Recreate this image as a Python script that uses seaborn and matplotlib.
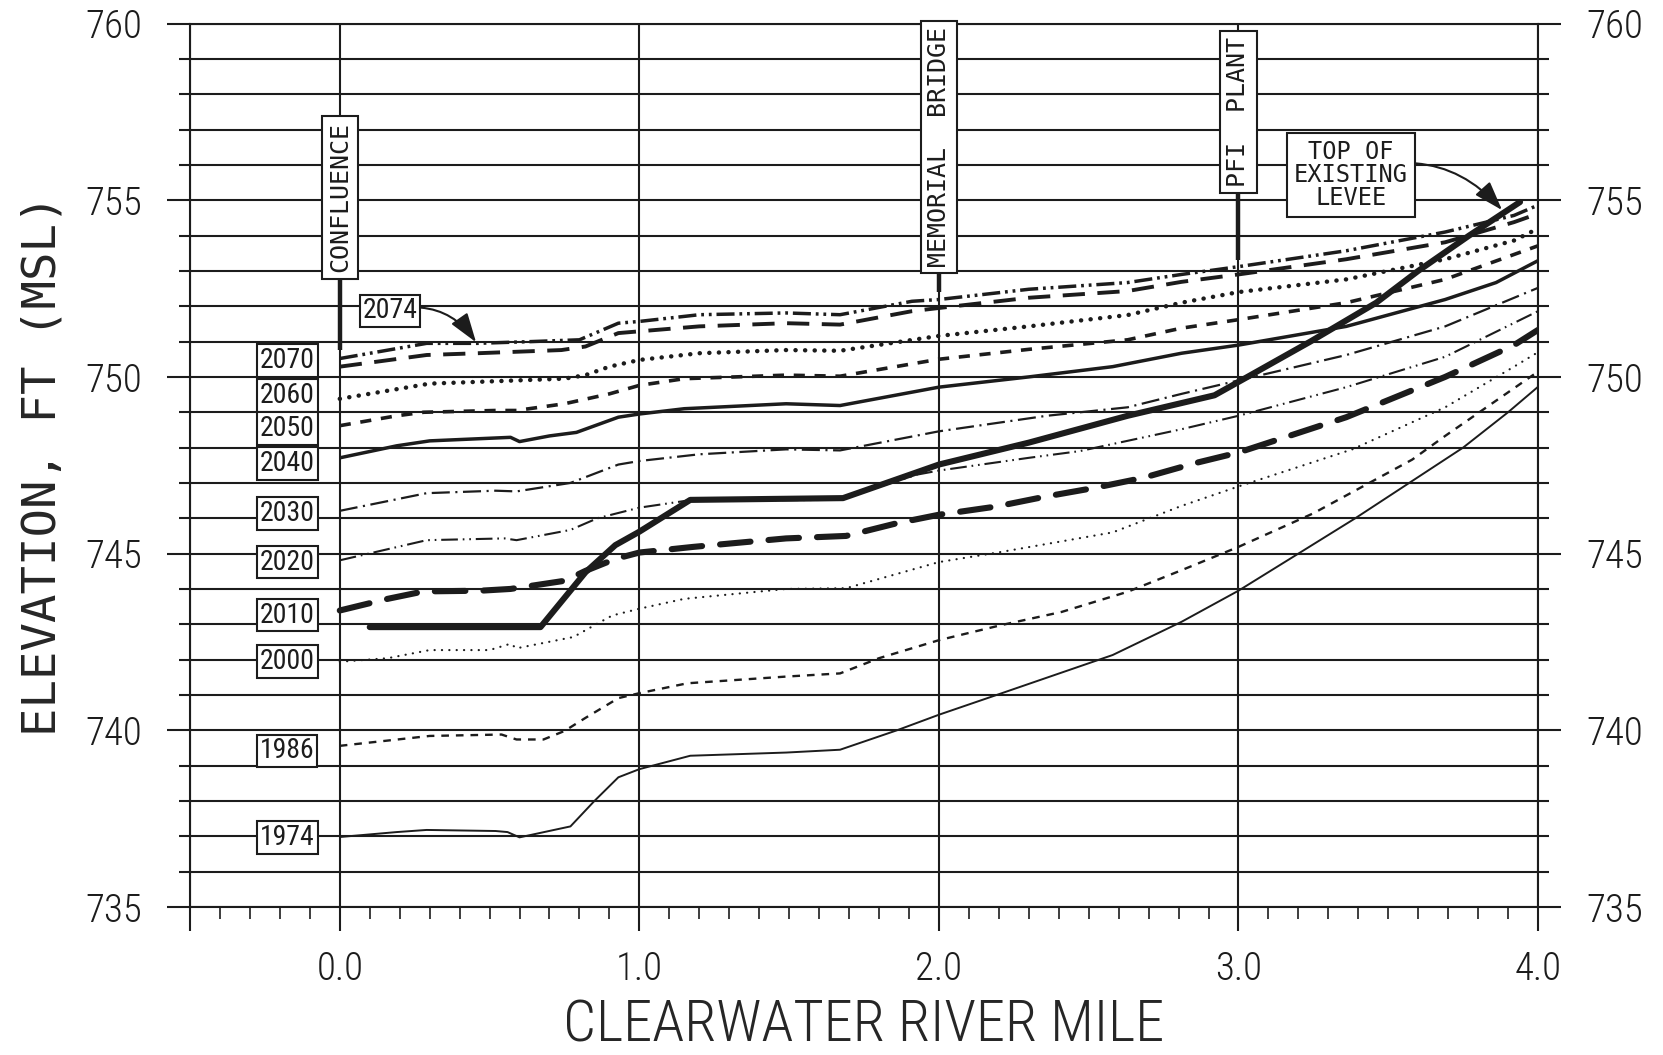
import matplotlib
matplotlib.use("Agg")
import matplotlib.pyplot as plt
from matplotlib import font_manager
from matplotlib.ticker import FixedLocator, FixedFormatter, MultipleLocator
import pandas as pd
import seaborn as sns

# ---------------- water-surface profiles (river mile, elevation ft MSL) ----------------
mile_1974 = [0.0, 0.19, 0.29, 0.52, 0.56, 0.60, 0.77, 0.85, 0.93, 1.0, 1.17, 1.49, 1.67, 1.86, 2.0,
             2.21, 2.58, 2.81, 3.0, 3.2, 3.39, 3.57, 3.75, 3.9, 4.0]
elev_1974 = [736.98, 737.12, 737.18, 737.15, 737.12, 736.97, 737.28, 738.0, 738.67, 738.9, 739.28,
             739.37, 739.45, 740.0, 740.44, 741.05, 742.13, 743.07, 743.95, 745.0, 746.0, 747.0,
             748.0, 749.0, 749.72]

mile_1986 = [0.0, 0.3, 0.54, 0.59, 0.68, 0.75, 0.82, 0.93, 1.0, 1.16, 1.49, 1.67, 1.8, 2.0, 2.21,
             2.41, 2.63, 2.81, 3.0, 3.25, 3.58, 3.69, 4.0]
elev_1986 = [739.56, 739.84, 739.88, 739.74, 739.74, 739.98, 740.35, 740.91, 741.05, 741.33, 741.52,
             741.61, 742.04, 742.55, 742.98, 743.35, 743.92, 744.53, 745.19, 746.14, 747.66, 748.33,
             750.15]

mile_2000 = [0.0, 0.16, 0.3, 0.5, 0.57, 0.59, 0.78, 0.86, 0.91, 1.0, 1.15, 1.49, 1.69, 2.0, 2.21,
             2.58, 2.81, 3.0, 3.38, 3.69, 3.92, 4.0]
elev_2000 = [741.94, 742.04, 742.27, 742.27, 742.45, 742.32, 742.64, 743.02, 743.25, 743.44, 743.72,
             744.0, 744.02, 744.76, 745.05, 745.6, 746.35, 746.9, 747.95, 749.14, 750.29, 750.7]

mile_2010 = [0.0, 0.16, 0.28, 0.47, 0.57, 0.75, 0.82, 0.92, 1.0, 1.18, 1.36, 1.49, 1.69, 1.86, 2.0,
             2.19, 2.36, 2.52, 2.68, 2.86, 3.0, 3.36, 3.69, 3.92, 4.0]
elev_2010 = [743.39, 743.72, 743.93, 743.95, 744.0, 744.23, 744.51, 744.85, 745.03, 745.19, 745.33,
             745.43, 745.5, 745.86, 746.1, 746.33, 746.62, 746.86, 747.14, 747.57, 747.86, 748.86,
             750.0, 750.9, 751.33]

mile_2020 = [0.0, 0.29, 0.55, 0.59, 0.77, 0.86, 1.0, 1.16, 1.66, 1.93, 2.0, 2.3, 2.47, 2.81, 3.0,
             3.36, 3.69, 4.0]
elev_2020 = [744.81, 745.38, 745.43, 745.38, 745.67, 746.0, 746.3, 746.5, 746.52, 747.24, 747.35,
             747.71, 747.9, 748.52, 748.9, 749.71, 750.57, 751.86]

mile_2030 = [0.0, 0.29, 0.52, 0.59, 0.77, 0.93, 1.0, 1.2, 1.49, 1.67, 2.0, 2.36, 2.63, 2.81, 3.0,
             3.36, 3.69, 4.0]
elev_2030 = [746.21, 746.71, 746.78, 746.76, 747.0, 747.52, 747.62, 747.81, 747.95, 747.92, 748.46,
             748.9, 749.14, 749.52, 749.9, 750.62, 751.43, 752.52]

mile_2040 = [0.0, 0.19, 0.3, 0.57, 0.6, 0.7, 0.79, 0.93, 1.0, 1.15, 1.49, 1.67, 2.0, 2.3, 2.58,
             2.81, 3.0, 3.36, 3.69, 3.86, 4.0]
elev_2040 = [747.71, 748.05, 748.19, 748.29, 748.17, 748.33, 748.43, 748.86, 748.95, 749.1, 749.24,
             749.19, 749.71, 750.0, 750.29, 750.67, 750.9, 751.43, 752.19, 752.67, 753.29]

mile_2050 = [0.0, 0.19, 0.28, 0.52, 0.59, 0.75, 0.9, 1.0, 1.15, 1.49, 1.67, 2.0, 2.3, 2.63, 2.81,
             3.0, 3.36, 3.69, 4.0]
elev_2050 = [748.62, 748.9, 749.0, 749.05, 749.05, 749.24, 749.52, 749.76, 749.95, 750.05, 750.02,
             750.5, 750.78, 751.05, 751.38, 751.62, 752.1, 752.76, 753.71]

mile_2060 = [0.0, 0.3, 0.75, 0.82, 0.9, 1.0, 1.2, 1.49, 1.67, 2.0, 2.3, 2.63, 2.81, 3.0, 3.36,
             3.69, 3.92, 4.0]
elev_2060 = [749.38, 749.81, 749.95, 750.05, 750.29, 750.48, 750.67, 750.76, 750.74, 751.16, 751.43,
             751.75, 752.1, 752.4, 752.76, 753.33, 753.86, 754.2]

mile_2070 = [0.0, 0.29, 0.46, 0.74, 0.82, 0.93, 1.0, 1.2, 1.49, 1.67, 1.91, 2.0, 2.3, 2.63, 2.81,
             3.0, 3.36, 3.69, 3.92, 4.0]
elev_2070 = [750.29, 750.62, 750.67, 750.76, 750.86, 751.24, 751.29, 751.43, 751.52, 751.48, 751.86,
             751.95, 752.24, 752.43, 752.69, 752.9, 753.33, 753.81, 754.38, 754.62]

mile_2074 = [0.0, 0.29, 0.46, 0.64, 0.8, 0.93, 1.0, 1.2, 1.49, 1.67, 1.91, 2.0, 2.3, 2.63, 2.81,
             3.0, 3.36, 3.69, 3.92, 4.0]
elev_2074 = [750.52, 750.95, 750.95, 751.0, 751.05, 751.52, 751.57, 751.76, 751.81, 751.76, 752.14,
             752.19, 752.48, 752.67, 752.9, 753.12, 753.57, 754.1, 754.57, 754.86]

# top of the existing levee
mile_levee = [0.1, 0.67, 0.82, 0.92, 1.0, 1.17, 1.68, 2.0, 2.3, 2.63, 2.92, 3.03, 3.24, 3.46, 3.6,
              3.77, 3.94]
elev_levee = [742.92, 742.92, 744.47, 745.24, 745.62, 746.52, 746.57, 747.52, 748.14, 748.9, 749.48,
              750.0, 751.0, 752.1, 753.0, 754.0, 754.95]

# landmarks along the river
landmark_names = ["CONFLUENCE", "MEMORIAL  BRIDGE", "PFI  PLANT"]
landmark_miles = [0.0, 2.0, 3.0]

# tick labels
x_tick_values = [-0.5, 0.0, 1.0, 2.0, 3.0, 4.0]
x_tick_labels = ["", "0.0", "1.0", "2.0", "3.0", "4.0"]

profiles = {
    "1974": (mile_1974, elev_1974),
    "1986": (mile_1986, elev_1986),
    "2000": (mile_2000, elev_2000),
    "2010": (mile_2010, elev_2010),
    "2020": (mile_2020, elev_2020),
    "2030": (mile_2030, elev_2030),
    "2040": (mile_2040, elev_2040),
    "2050": (mile_2050, elev_2050),
    "2060": (mile_2060, elev_2060),
    "2070": (mile_2070, elev_2070),
    "2074": (mile_2074, elev_2074),
}

frames = [pd.DataFrame({"mile": m, "elev": e, "profile": name}) for name, (m, e) in profiles.items()]
frames.append(pd.DataFrame({"mile": mile_levee, "elev": elev_levee, "profile": "levee"}))
df = pd.concat(frames, ignore_index=True)

# line styles: width (pt), dash pattern (pt), cap style
INK = "#1c1c1c"
styles = {
    "1974": dict(lw=1.4, ls="-", cap="butt"),
    "1986": dict(lw=1.7, ls=(0, (5.5, 5.0)), cap="butt"),
    "2000": dict(lw=1.6, ls=(0, (0.1, 5.2)), cap="round"),
    "2010": dict(lw=4.4, ls=(0, (22, 13)), cap="round"),
    "2020": dict(lw=1.5, ls=(0, (12, 3.5, 1.2, 3.5, 1.2, 3.5)), cap="butt"),
    "2030": dict(lw=1.6, ls=(0, (13, 4, 1.5, 4)), cap="butt"),
    "2040": dict(lw=2.5, ls="-", cap="butt"),
    "2050": dict(lw=2.6, ls=(0, (8, 7)), cap="butt"),
    "2060": dict(lw=3.2, ls=(0, (0.1, 6.8)), cap="round"),
    "2070": dict(lw=2.8, ls=(0, (16, 9)), cap="butt"),
    "2074": dict(lw=2.5, ls=(0, (13, 3.5, 2, 3.5, 2, 3.5)), cap="butt"),
    "levee": dict(lw=4.4, ls="-", cap="round"),
}

# label placement for the profile year boxes
label_mile = -0.175
label_elev = {"2070": 750.46, "2060": 749.47, "2050": 748.54, "2040": 747.55, "2030": 746.14,
              "2020": 744.76, "2010": 743.26, "2000": 741.94, "1986": 739.42, "1974": 736.96}

# ---------------- styling ----------------
sns.set_theme(style="white")
avail = {f.name for f in font_manager.fontManager.ttflist}
NARROW = next((f for f in ["Liberation Sans Narrow", "DejaVu Sans Condensed", "Roboto Condensed",
                           "Open Sans Condensed", "Liberation Sans"] if f in avail), "DejaVu Sans")
MONO = "DejaVu Sans Mono"
plt.rcParams["font.family"] = [NARROW, "DejaVu Sans"]
plt.rcParams["lines.scale_dashes"] = False
plt.rcParams["axes.edgecolor"] = INK
plt.rcParams["text.color"] = INK
plt.rcParams["xtick.color"] = INK
plt.rcParams["ytick.color"] = INK

fig = plt.figure(figsize=(16.63, 10.55), dpi=100)
ax = fig.add_axes([0.11425, 0.1403, 0.8106, 0.8374])

for name in list(profiles.keys()) + ["levee"]:
    st = styles[name]
    sub = df[df["profile"] == name]
    sns.lineplot(data=sub, x="mile", y="elev", ax=ax, color=INK, lw=st["lw"], linestyle=st["ls"],
                 estimator=None, sort=False, legend=False, zorder=4,
                 dash_capstyle=st["cap"], solid_capstyle=st["cap"])

ax.set_xlim(-0.5, 4.0)
ax.set_ylim(735, 760)

# grid and ticks
ax.yaxis.set_major_locator(MultipleLocator(5))
ax.yaxis.set_minor_locator(MultipleLocator(1))
ax.xaxis.set_major_locator(FixedLocator(x_tick_values))
ax.xaxis.set_major_formatter(FixedFormatter(x_tick_labels))
ax.xaxis.set_minor_locator(MultipleLocator(0.1))
ax.set_axisbelow(True)
ax.grid(True, axis="y", which="both", color=INK, lw=1.5)
ax.grid(True, axis="x", which="major", color=INK, lw=1.5)
ax.grid(False, axis="x", which="minor")
for sp in ax.spines.values():
    sp.set_linewidth(1.5)
    sp.set_color(INK)

ax.tick_params(axis="y", which="major", left=True, right=True, labelleft=True, labelright=True,
               direction="out", length=16.5, width=1.5, pad=18, labelsize=28)
ax.tick_params(axis="y", which="minor", left=True, right=True, direction="out", length=8, width=1.5)
ax.tick_params(axis="x", which="major", bottom=True, top=False, direction="out", length=17,
               width=1.5, pad=14, labelsize=28)
ax.tick_params(axis="x", which="minor", bottom=True, top=False, direction="out", length=8.5,
               width=1.2)
for t in ax.yaxis.get_major_ticks() + ax.xaxis.get_major_ticks():
    t.label1.set_fontweight("light")
    t.label2.set_fontweight("light")

ax.set_xlabel("CLEARWATER RIVER MILE", fontsize=42, labelpad=8, fontweight="light")
ax.set_ylabel("ELEVATION, FT (MSL)", fontsize=34, family=MONO, labelpad=14)

# profile year boxes
box_kw = dict(boxstyle="square,pad=0.1", fc="white", ec=INK, lw=1.5)
for name, y in label_elev.items():
    ax.text(label_mile, y, name, ha="center", va="center", fontsize=20, bbox=box_kw, zorder=6)

ax.annotate("2074", xy=(0.455, 750.98), xytext=(0.167, 751.87), ha="center", va="center",
            fontsize=20, bbox=box_kw, zorder=6,
            arrowprops=dict(arrowstyle="-|>,head_length=0.9,head_width=0.3", color=INK, lw=1.5,
                            connectionstyle="arc3,rad=-0.35", shrinkA=0, shrinkB=0,
                            mutation_scale=20))

ax.annotate("TOP OF\nEXISTING\nLEVEE", xy=(3.88, 754.72), xytext=(3.375, 755.72), ha="center",
            va="center", fontsize=17, family=MONO, linespacing=0.95,
            bbox=dict(boxstyle="square,pad=0.3", fc="white", ec=INK, lw=1.5), zorder=6,
            arrowprops=dict(arrowstyle="-|>,head_length=0.9,head_width=0.3", color=INK, lw=1.5,
                            connectionstyle="arc3,rad=-0.35", shrinkA=0, shrinkB=0,
                            mutation_scale=20))

# landmark labels with heavy stub below each box
label_center = [755.08, 756.5, 757.5]
stub_top = [752.83, 753.17, 755.4]
stub_bottom = [750.76, 752.4, 753.3]
for name, m, yc, s0, s1 in zip(landmark_names, landmark_miles, label_center, stub_top, stub_bottom):
    ax.text(m, yc, name, rotation=90, ha="center", va="center", fontsize=18, family=MONO,
            bbox=dict(boxstyle="square,pad=0.25", fc="white", ec=INK, lw=1.5), zorder=6)
    ax.plot([m, m], [s0, s1], color=INK, lw=3.2, zorder=5, solid_capstyle="butt")

fig.savefig("out.png", dpi=100)
